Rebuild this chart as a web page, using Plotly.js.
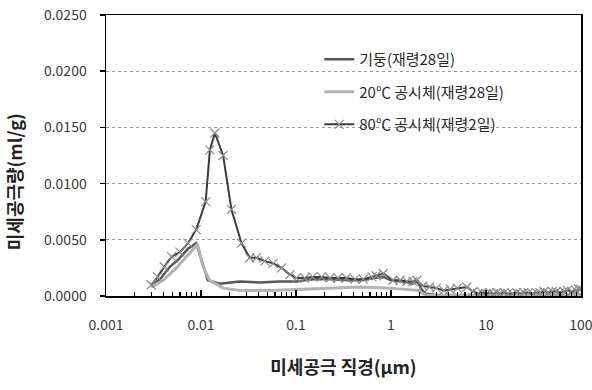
<!DOCTYPE html>
<html>
<head>
<meta charset="utf-8">
<script src="https://cdn.plot.ly/plotly-3.0.1.min.js"></script>
<style>html,body{margin:0;padding:0;background:#fff;}#chart{width:592px;height:390px;}</style>
</head>
<body>
<div id="chart"></div>
<script>
// Series names
const seriesNames = ['기둥(재령28일)', '20℃ 공시체(재령28일)', '80℃ 공시체(재령2일)'];

// 기둥(재령28일)
const colDiam = [0.0030,0.0038,0.0047,0.0057,0.0073,0.0089,0.0118,0.0157,0.0256,0.0415,0.067,0.101,0.15,0.23,0.35,0.50,0.65,0.83,1.0,1.3,1.7,1.9,2.1,2.3,3.0,5.0,10,30,100];
const colVol  = [0.0008,0.0016,0.0026,0.0032,0.0042,0.0047,0.0014,0.0011,0.0013,0.0012,0.0013,0.0013,0.0015,0.0015,0.0014,0.0014,0.0016,0.0017,0.0014,0.0013,0.0011,0.0013,0.0006,0.0002,0.0001,0.0001,0.0001,0.0001,0.0001];

// 20℃ 공시체(재령28일)
const s20Diam = [0.0030,0.0040,0.0055,0.0070,0.0086,0.0092,0.0105,0.0123,0.0171,0.0256,0.053,0.11,0.23,0.47,0.98,1.4,1.9,2.3,3.0,5.0,10,30,100];
const s20Vol  = [0.0008,0.0014,0.0025,0.0035,0.0044,0.0046,0.0026,0.0014,0.0007,0.0005,0.0005,0.0006,0.0007,0.0008,0.0007,0.0006,0.0005,0.0001,0.00005,0.00005,0.00005,0.00005,0.00005];

// 80℃ 공시체(재령2일)
const s80Diam = [0.0030,0.0035,0.0041,0.0049,0.0060,0.0073,0.0089,0.0112,0.0124,0.0140,0.0171,0.0209,0.0267,0.0326,0.0384,0.047,0.0575,0.0705,0.0863,0.101,0.124,0.150,0.186,0.228,0.277,0.340,0.418,0.51,0.63,0.70,0.83,1.05,1.25,1.47,1.70,1.87,2.16,2.55,3.0,3.6,4.2,5.0,6.3,7.3,8.2,9.0,
  10,11,12,13,14,15.5,17,19,21,23,25,28,31,34,37,41,45,50,55,60,66,72,80,88,95,100];
const s80Vol  = [0.0010,0.0017,0.0026,0.0035,0.0039,0.0047,0.0059,0.0084,0.0130,0.0145,0.0125,0.0077,0.0047,0.0034,0.0034,0.0031,0.0029,0.0025,0.0019,0.0016,0.0016,0.0017,0.0017,0.0016,0.0016,0.0016,0.0015,0.0015,0.0017,0.0018,0.0020,0.0014,0.0014,0.0013,0.0013,0.0014,0.0009,0.0008,0.0007,0.0005,0.0006,0.0007,0.0008,0.0004,0.0002,0.0003,
  0.0002,0.0003,0.0002,0.0003,0.0002,0.0003,0.0002,0.0002,0.0003,0.0002,0.0003,0.0003,0.0002,0.0003,0.0003,0.0004,0.0003,0.0004,0.0004,0.0003,0.0004,0.0005,0.0004,0.0005,0.0006,0.0006];

// Axis ticks
const xTickVals = [0.001, 0.01, 0.1, 1, 10, 100];
const xTickText = ['0.001', '0.01', '0.1', '1', '10', '100'];
const yTickVals = [0, 0.005, 0.01, 0.015, 0.02, 0.025];
const yTickText = ['0.0000', '0.0050', '0.0100', '0.0150', '0.0200', '0.0250'];

const xMinor = [];
for (let k = 0; k < xTickVals.length - 1; k++) {
  for (let m = 2; m <= 9; m++) xMinor.push(xTickVals[k] * m);
}

const FONT = '"Noto Sans CJK KR", "Noto Sans", sans-serif';

const traces = [
  {x: colDiam, y: colVol, name: seriesNames[0], type: 'scatter', mode: 'lines',
   line: {color: '#575757', width: 2.5}, legendgroup: 'a'},
  {x: s20Diam, y: s20Vol, name: seriesNames[1], type: 'scatter', mode: 'lines',
   line: {color: '#b3b3b3', width: 3}, legendgroup: 'b'},
  {x: s80Diam, y: s80Vol, name: seriesNames[2], type: 'scatter', mode: 'lines+markers',
   line: {color: '#3c3c3c', width: 2},
   marker: {symbol: 'x-thin', size: 9, color: '#8c8c8c', line: {color: '#8c8c8c', width: 1.2}},
   legendgroup: 'c'}
];

const layout = {
  width: 592, height: 390,
  margin: {l: 106, r: 11, t: 15, b: 94, pad: 0},
  paper_bgcolor: '#ffffff', plot_bgcolor: '#ffffff',
  font: {family: FONT, size: 14, color: '#3a3a3a'},
  showlegend: true,
  legend: {x: 0.449, y: 0.9, xanchor: 'left', yanchor: 'top', bgcolor: 'rgba(0,0,0,0)',
           font: {family: FONT, size: 15, color: '#2a2a2a'}, tracegroupgap: 10, traceorder: 'grouped'},
  xaxis: {
    type: 'log', range: [-3.0001, 2.0001],
    tickmode: 'array', tickvals: xTickVals, ticktext: xTickText,
    ticks: 'inside', ticklen: 6, tickwidth: 1.5, tickcolor: '#000',
    minor: {tickmode: 'array', tickvals: xMinor, ticks: 'inside', ticklen: 4, tickwidth: 1.2, tickcolor: '#000', showgrid: false},
    showline: true, linecolor: '#000', linewidth: 1.5, mirror: true,
    showgrid: false, zeroline: false,
    ticklabelstandoff: 16,
    ticklabeloverflow: 'allow',
    tickfont: {family: FONT, size: 14, color: '#3a3a3a'},
    title: {text: '미세공극 직경(μm)', font: {family: FONT, size: 18, color: '#222', weight: 'bold'}, standoff: 28},
    automargin: false
  },
  yaxis: {
    range: [0, 0.025],
    tickmode: 'array', tickvals: yTickVals, ticktext: yTickText,
    ticks: 'outside', ticklen: 5, tickwidth: 1.5, tickcolor: '#000',
    showline: true, linecolor: '#000', linewidth: 1.5, mirror: true,
    showgrid: true, gridcolor: '#9a9a9a', griddash: 'dot', gridwidth: 1,
    zeroline: false,
    ticklabelstandoff: 10,
    tickfont: {family: FONT, size: 14, color: '#3a3a3a'},
    automargin: false
  },
  shapes: [
    {type: 'rect', xref: 'paper', yref: 'paper', x0: 0.355, x1: 0.997, y0: 0.5, y1: 0.997,
     fillcolor: '#ffffff', line: {width: 0}, layer: 'between'}
  ],
  annotations: [
    {text: '미세공극량(ml/g)', xref: 'paper', yref: 'paper', x: -0.193, y: 0.406,
     xanchor: 'center', yanchor: 'middle', textangle: -90, showarrow: false,
     font: {family: FONT, size: 18, color: '#222', weight: 'bold'}}
  ]
};

Plotly.newPlot('chart', traces, layout, {staticPlot: true, displayModeBar: false});
</script>
</body>
</html>
